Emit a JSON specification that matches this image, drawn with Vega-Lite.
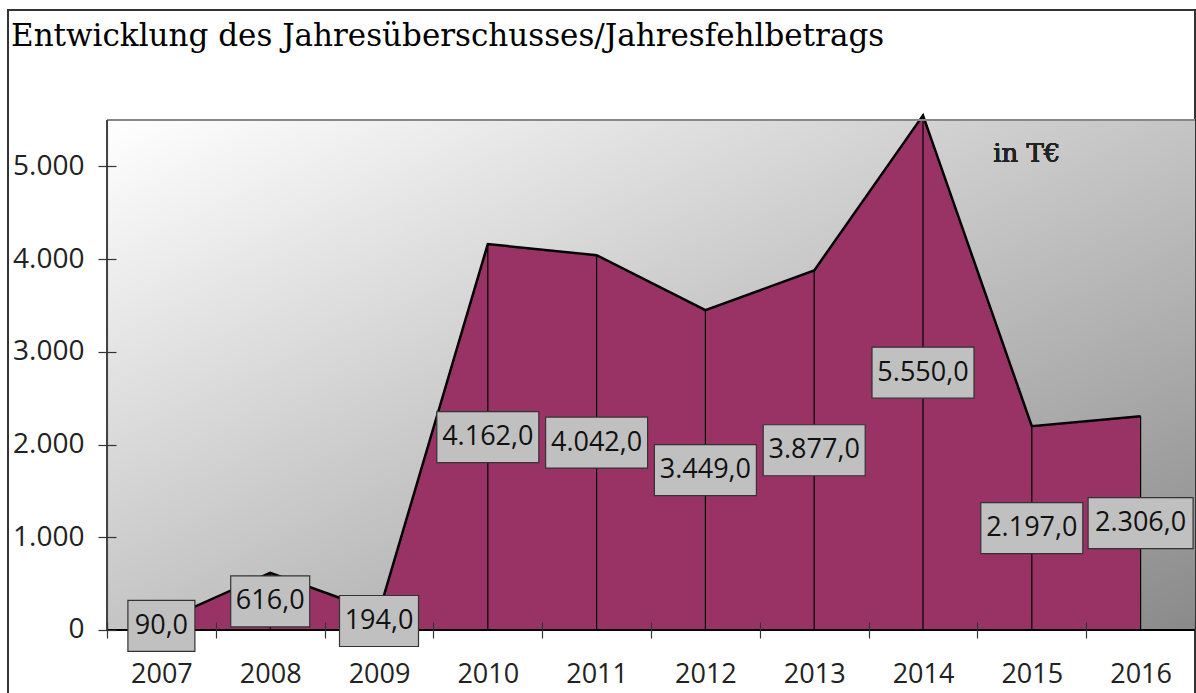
{
  "$schema": "https://vega.github.io/schema/vega-lite/v6.json",
  "autosize": "none",
  "padding": {"left": 8, "top": 10, "right": 1, "bottom": -2},
  "width": 1187,
  "height": 685,
  "background": "#ffffff",
  "title": {
    "text": "Entwicklung des Jahresüberschusses/Jahresfehlbetrags",
    "anchor": "start",
    "frame": "group",
    "orient": "top",
    "offset": -43,
    "dx": 3,
    "font": "DejaVu Serif",
    "fontSize": 31,
    "fontWeight": "normal",
    "color": "#000000"
  },
  "data": {
    "values": [
      {"year": "2007", "value": 90},
      {"year": "2008", "value": 616},
      {"year": "2009", "value": 194},
      {"year": "2010", "value": 4162},
      {"year": "2011", "value": 4042},
      {"year": "2012", "value": 3449},
      {"year": "2013", "value": 3877},
      {"year": "2014", "value": 5550},
      {"year": "2015", "value": 2197},
      {"year": "2016", "value": 2306}
    ]
  },
  "resolve": {"scale": {"y": "independent"}, "axis": {"y": "independent"}},
  "layer": [
    {
      "encoding": {
        "x": {
          "field": "year",
          "type": "nominal",
          "scale": {"type": "band", "paddingInner": 0, "paddingOuter": 0.455, "align": 1},
          "axis": {
            "title": null,
            "labelAngle": 0,
            "labelFont": "Open Sans",
            "labelFontSize": 27,
            "labelColor": "#222222",
            "tickBand": "extent",
            "tickSize": 16,
            "tickColor": "#333333",
            "tickWidth": 1.2,
            "domain": false,
            "offset": -73,
            "labelPadding": 23,
            "zindex": 1
          }
        }
      },
      "layer": [
        {
          "mark": {
            "type": "rect",
            "color": {
              "gradient": "linear",
              "x1": 0, "y1": 0, "x2": 1, "y2": 1,
              "stops": [
                {"offset": 0, "color": "#ffffff"},
                {"offset": 1, "color": "#8a8a8a"}
              ]
            }
          },
          "encoding": {
            "x": {"datum": "2007", "bandPosition": 0},
            "x2": {"value": "width"},
            "y": {"datum": 0, "type": "quantitative", "scale": {"domain": [-701.0, 6686.3], "nice": false, "zero": false},
              "axis": {
                "values": [0, 1000, 2000, 3000, 4000, 5000],
                "format": ",.0f",
                "title": null,
                "grid": false,
                "domain": false,
                "labelFont": "Open Sans",
                "labelFontSize": 28,
                "labelColor": "#222222",
                "tickSize": 18,
                "tickColor": "#333333",
                "tickWidth": 1.2,
                "offset": -108,
                "labelPadding": 14,
                "zindex": 1
              }
            },
            "y2": {"datum": 5500}
          }
        },
        {
          "mark": {"type": "area", "color": "#993366", "opacity": 1},
          "encoding": {
            "y": {"field": "value", "type": "quantitative"}
          }
        },
        {
          "mark": {"type": "rule", "color": "#000000", "strokeWidth": 1.2},
          "encoding": {
            "y": {"field": "value", "type": "quantitative"},
            "y2": {"datum": 0}
          }
        },
        {
          "mark": {"type": "line", "color": "#000000", "strokeWidth": 2.5},
          "encoding": {
            "y": {"field": "value", "type": "quantitative"}
          }
        },
        {
          "mark": {"type": "rule", "color": "#888888", "strokeWidth": 2},
          "encoding": {
            "x": {"datum": "2007", "bandPosition": 0},
            "x2": {"value": "width"},
            "y": {"datum": 5500, "type": "quantitative"}
          }
        },
        {
          "mark": {"type": "rule", "color": "#444444", "strokeWidth": 2},
          "encoding": {
            "x": {"datum": "2007", "bandPosition": 0},
            "y": {"datum": 0, "type": "quantitative"},
            "y2": {"datum": 5500}
          }
        },
        {
          "mark": {"type": "rule", "color": "#000000", "strokeWidth": 2},
          "encoding": {
            "x": {"datum": "2007", "bandPosition": 0},
            "x2": {"value": "width"},
            "y": {"datum": 0, "type": "quantitative"}
          }
        },
        {
          "mark": {"type": "text", "text": "in T€", "font": "DejaVu Serif", "fontSize": 26, "color": "#222222", "align": "center", "baseline": "middle", "dx": -5},
          "encoding": {
            "x": {"datum": "2015"},
            "y": {"datum": 5130, "type": "quantitative"}
          }
        }
      ]
    },
    {
      "encoding": {
        "x": {"field": "year", "type": "nominal"},
        "y": {
          "field": "value",
          "type": "quantitative",
          "scale": {"domain": [-1402.0, 13372.6], "nice": false, "zero": false},
          "axis": null
        }
      },
      "layer": [
        {
          "mark": {"type": "point", "filled": true, "fill": "#c0c0c0", "stroke": "#333333", "strokeWidth": 1.2, "opacity": 1, "fillOpacity": 1, "size": 10000},
          "encoding": {
            "shape": {
              "field": "year",
              "type": "nominal",
              "legend": null,
              "scale": {
                "domain": ["2007", "2008", "2009", "2010", "2011", "2012", "2013", "2014", "2015", "2016"],
                "range": [
                  "M-0.67,-0.51H0.67V0.51H-0.67Z",
                  "M-0.79,-0.51H0.79V0.51H-0.79Z",
                  "M-0.79,-0.51H0.79V0.51H-0.79Z",
                  "M-1.02,-0.51H1.02V0.51H-1.02Z",
                  "M-1.02,-0.51H1.02V0.51H-1.02Z",
                  "M-1.02,-0.51H1.02V0.51H-1.02Z",
                  "M-1.02,-0.51H1.02V0.51H-1.02Z",
                  "M-1.02,-0.51H1.02V0.51H-1.02Z",
                  "M-1.02,-0.51H1.02V0.51H-1.02Z",
                  "M-1.05,-0.51H1.05V0.51H-1.05Z"
                ]
              }
            }
          }
        },
        {
          "mark": {"type": "text", "font": "Open Sans", "fontSize": 27, "color": "#111111", "align": "center", "baseline": "middle"},
          "encoding": {
            "text": {"field": "value", "type": "quantitative", "format": ",.1f"}
          }
        }
      ]
    }
  ],
  "config": {
    "locale": {
      "number": {"decimal": ",", "thousands": ".", "grouping": [3], "currency": ["", " €"]}
    },
    "view": {"stroke": "#333333", "strokeWidth": 2, "fill": "#ffffff"}
  }
}
